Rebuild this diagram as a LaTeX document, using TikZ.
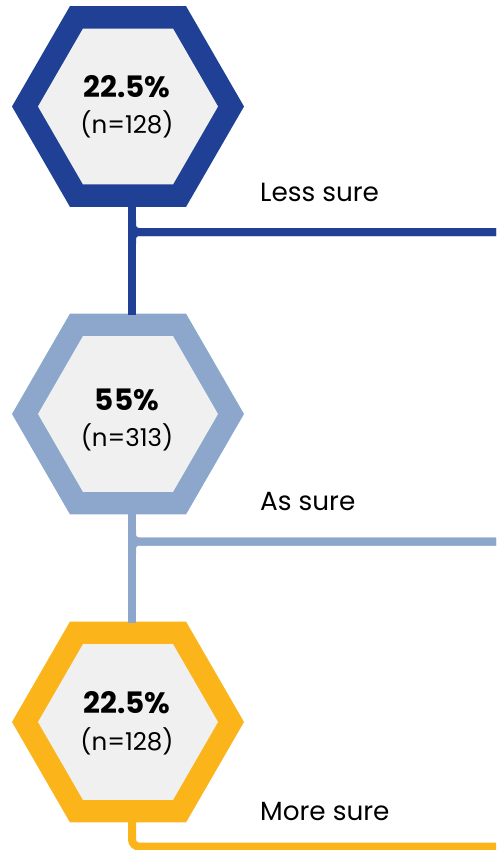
\documentclass[tikz,border=0pt]{standalone}
\usepackage{fontspec}
\setmainfont{Poppins}
\usetikzlibrary{shapes.geometric,calc}
\definecolor{dblue}{HTML}{1F4094}
\definecolor{lblue}{HTML}{8DA6CC}
\definecolor{gold}{HTML}{FBB41A}
\definecolor{hexgray}{HTML}{F0F0F0}
\tikzset{
  hexout/.style={regular polygon, regular polygon sides=6, minimum size=232pt, inner sep=0pt, outer sep=0pt, fill=#1},
  hexin/.style={regular polygon, regular polygon sides=6, minimum size=180pt, inner sep=0pt, outer sep=0pt, fill=hexgray},
  pct/.style={anchor=base, inner sep=0pt, font=\fontsize{29.5}{31}\selectfont\bfseries},
  cnt/.style={anchor=base, inner sep=0pt, font=\fontsize{24.5}{26}\selectfont},
  lab/.style={anchor=base west, inner sep=0pt, font=\fontsize{26.3}{28}\selectfont},
  conn/.style={line width=8pt, draw=#1},
  branch/.style={line width=8pt, draw=#1, rounded corners=7pt},
}
\begin{document}
\begin{tikzpicture}[x=1pt,y=-1pt]
\useasboundingbox (0,0) rectangle (496,850);
% hexagons
\node[hexout=dblue] (h1) at (128,106.5) {};
\node[hexin] (i1) at (128,106.5) {};
\node[hexout=lblue] (h2) at (128,414) {};
\node[hexin] (i2) at (128,414) {};
\node[hexout=gold] (h3) at (128,722) {};
\node[hexin] (i3) at (128,722) {};
% texts
\node[pct] (p1) at (127,97.3) {22.5\%};
\node[cnt] (n1) at (127,134) {(n=128)};
\node[pct] (p2) at (127,410.7) {55\%};
\node[cnt] (n2) at (127,446) {(n=313)};
\node[pct] (p3) at (127,713.3) {22.5\%};
\node[cnt] (n3) at (127,750) {(n=128)};
% labels
\node[lab] (l1) at (260,201.7) {Less sure};
\node[lab] (l2) at (260,510.7) {As sure};
\node[lab] (l3) at (260,820.7) {More sure};
% junctions and free ends
\coordinate (j1) at (132,232);
\coordinate (e1) at (496,232);
\coordinate (j2) at (132,541.5);
\coordinate (e2) at (496,541.5);
\coordinate (j3) at (132,846.5);
\coordinate (e3) at (496,846.5);
% connectors
\draw[conn=dblue] ($(h1.south)+(4,-1)$) -- ($(h2.north)+(4,1)$);
\draw[branch=dblue] ($(j1)+(0,-12)$) -- (j1) -- (e1);
\draw[branch=dblue] ($(j1)+(0,12)$) -- (j1) -- (e1);
\draw[conn=lblue] ($(h2.south)+(4,-1)$) -- ($(h3.north)+(4,1)$);
\draw[branch=lblue] ($(j2)+(0,-12)$) -- (j2) -- (e2);
\draw[branch=lblue] ($(j2)+(0,12)$) -- (j2) -- (e2);
\draw[branch=gold] ($(h3.south)+(4,-1)$) -- (j3) -- (e3);
\end{tikzpicture}
\end{document}
